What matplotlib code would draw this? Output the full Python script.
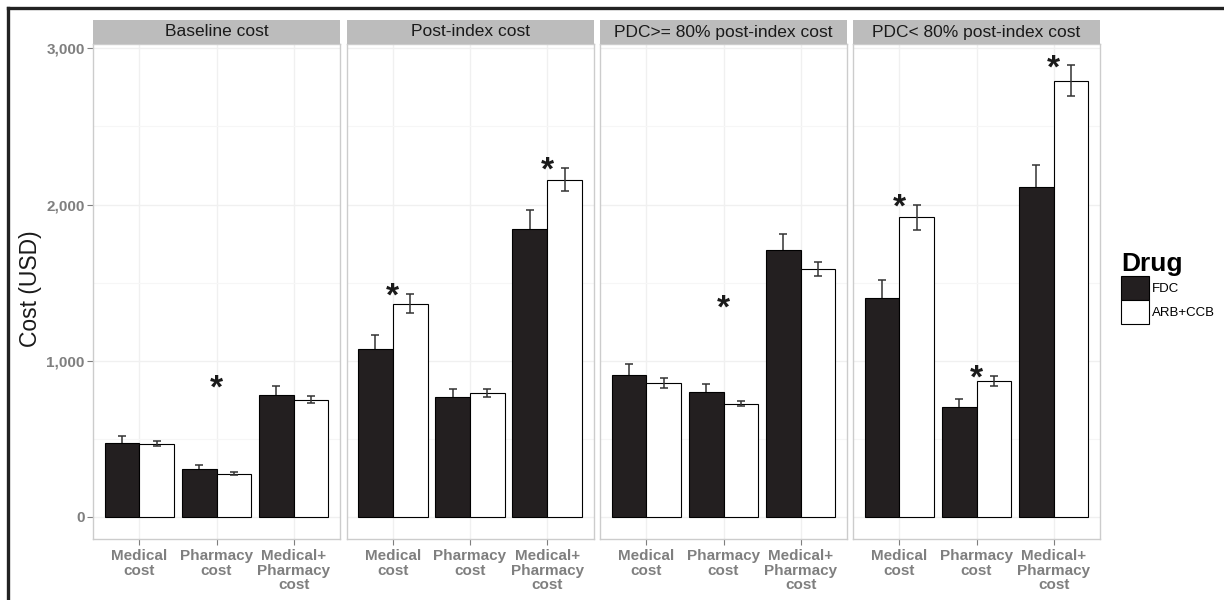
import matplotlib
matplotlib.use("Agg")
from matplotlib import pyplot as plt
from matplotlib.lines import Line2D
from matplotlib.patches import Rectangle
import numpy as np

plt.rcParams['font.family'] = ['Liberation Sans', 'DejaVu Sans']

panels = ["Baseline cost", "Post-index cost", "PDC>= 80% post-index cost", "PDC< 80% post-index cost"]
categories = ["Medical\ncost", "Pharmacy\ncost", "Medical+\nPharmacy\ncost"]

fdc_mean = [[474, 308, 782], [1075, 769, 1846], [910, 801, 1709], [1402, 705, 2111]]
fdc_err = [[45, 25, 55], [87, 49, 116], [70, 50, 100], [117, 49, 141]]
arb_mean = [[468, 276, 750], [1365, 793, 2158], [859, 724, 1588], [1919, 872, 2793]]
arb_err = [[15, 8, 22], [60, 28, 74], [32, 15, 43], [81, 32, 99]]

# significance stars: (panel, category, y)
stars = [(0, 1, 878), (1, 0, 1468), (1, 2, 2278), (2, 1, 1391),
         (3, 0, 2036), (3, 1, 942), (3, 2, 2929)]

yticks = [0, 1000, 2000, 3000]
ytick_labels = ["0", "1,000", "2,000", "3,000"]

W, H = 1224, 600
fig = plt.figure(figsize=(W / 100, H / 100), dpi=100)

panel_x = [93, 346.5, 600, 853]
pw = 247
top, bottom = 44, 539
strip_top = 20

x = np.arange(len(categories))
bw = 0.45
gray = "#7f7f7f"

axes = []
for i, name in enumerate(panels):
    ax = fig.add_axes([panel_x[i] / W, 1 - bottom / H, pw / W, (bottom - top) / H])
    axes.append(ax)
    ax.set_xlim(-0.6, 2.6)
    ax.set_ylim(-142, 3028)
    ax.set_yticks(yticks)
    ax.set_yticks([500, 1500, 2500], minor=True)
    ax.grid(True, which="major", color="#f0f0f0", lw=1.0)
    ax.grid(True, which="minor", axis="y", color="#f6f6f6", lw=0.8)
    ax.set_axisbelow(True)
    # FDC error bars sit under the dark bars, so only the upper half shows
    ax.errorbar(x - bw / 2, fdc_mean[i], yerr=fdc_err[i], fmt="none", ecolor="#333333",
                elinewidth=1.1, capsize=2.6, capthick=1.1, zorder=1.5)
    ax.bar(x - bw / 2, fdc_mean[i], bw, color="#231f20", edgecolor="black", lw=0.8,
           label="FDC", zorder=2)
    ax.bar(x + bw / 2, arb_mean[i], bw, color="white", edgecolor="black", lw=0.8,
           label="ARB+CCB", zorder=2)
    ax.errorbar(x + bw / 2, arb_mean[i], yerr=arb_err[i], fmt="none", ecolor="#333333",
                elinewidth=1.1, capsize=2.6, capthick=1.1, zorder=3)
    ax.set_xticks(x)
    ax.set_xticklabels(categories, fontsize=11, fontweight="bold", color=gray, linespacing=1.08)
    ax.tick_params(axis="both", which="major", length=4, color=gray, width=0.8, pad=2)
    ax.tick_params(axis="x", which="major", pad=3)
    ax.tick_params(axis="y", which="minor", length=0)
    if i == 0:
        ax.set_yticklabels(ytick_labels, fontsize=11, fontweight="bold", color=gray)
    else:
        ax.tick_params(axis="y", which="major", length=0, labelleft=False)
    for s in ax.spines.values():
        s.set_color("#cccccc")
        s.set_linewidth(1.0)
    # strip
    fig.add_artist(Rectangle((panel_x[i] / W, 1 - top / H), pw / W, (top - strip_top) / H,
                             transform=fig.transFigure, facecolor="#bcbcbc", edgecolor="none"))
    fig.text((panel_x[i] + pw / 2) / W, 1 - (top + strip_top) / 2 / H, name,
             ha="center", va="center", fontsize=12.5, color="#1a1a1a")

for p, c, yv in stars:
    axes[p].annotate("*", (x[c], yv), xytext=(0, -13), textcoords="offset points",
                     ha="center", va="baseline", fontsize=24, fontweight="bold",
                     color="#1a1a1a")

fig.text(30 / W, 1 - 289 / H, "Cost (USD)", rotation=90, ha="center", va="center",
         fontsize=16.5, color="#1a1a1a")

handles, labels = axes[0].get_legend_handles_labels()
leg = fig.legend(handles, labels, title="Drug", loc="upper left",
                 bbox_to_anchor=(1116 / W, 1 - 247 / H), frameon=False,
                 fontsize=9.5, handlelength=2.1, handleheight=2.4, handletextpad=0.25,
                 labelspacing=0.0, borderaxespad=0, alignment="left",
                 title_fontproperties={"weight": "bold", "size": 19})

# outer frame (top and left)
fig.add_artist(Line2D([8 / W, 1], [1 - 8 / H, 1 - 8 / H], transform=fig.transFigure,
                      color="#222222", lw=2.4))
fig.add_artist(Line2D([8 / W, 8 / W], [1 - 8 / H, 0], transform=fig.transFigure,
                      color="#222222", lw=2.4))

fig.savefig("out.png", dpi=100)
